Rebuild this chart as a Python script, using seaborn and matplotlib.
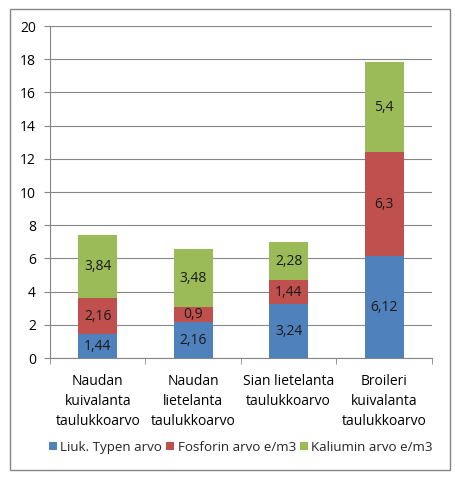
import numpy as np
import pandas as pd
import seaborn as sns
import matplotlib.pyplot as plt
from matplotlib.patches import Rectangle

categories = ["Naudan\nkuivalanta\ntaulukkoarvo", "Naudan\nlietelanta\ntaulukkoarvo",
              "Sian lietelanta\ntaulukkoarvo", "Broileri\nkuivalanta\ntaulukkoarvo"]
typpi = [1.44, 2.16, 3.24, 6.12]
fosfori = [2.16, 0.9, 1.44, 6.3]
kalium = [3.84, 3.48, 2.28, 5.4]
series_names = ["Liuk. Typen arvo", "Fosforin arvo e/m3", "Kaliumin arvo e/m3"]
COLORS = ["#4F81BD", "#C0504D", "#9BBB59"]

sns.set_style("white")
plt.rcParams['font.family'] = ['Open Sans', 'DejaVu Sans']

fig = plt.figure(figsize=(4.56, 4.78), dpi=100)
ax = fig.add_axes([0.1096, 0.251, 0.8374, 0.6946])

df = pd.DataFrame({"cat": categories, "t": typpi, "f": fosfori, "k": kalium})
bottoms = np.zeros(len(categories))
for col, name, color in zip(["t", "f", "k"], series_names, COLORS):
    sns.barplot(data=df, x="cat", y=col, color=color, bottom=bottoms.copy(),
                width=0.41, label=name, ax=ax, zorder=3, saturation=1,
                linewidth=0)
    vals = df[col].values
    for i, v in enumerate(vals):
        ax.text(i, bottoms[i] + v / 2, f"{v:g}".replace(".", ","),
                ha="center", va="center", fontsize=10, color="#1a1a1a", zorder=4)
    bottoms += vals

ax.set_ylim(0, 20)
ax.set_yticks(np.arange(0, 21, 2))
ax.set_xlim(-0.5, 3.5)
ax.set_xlabel("")
ax.set_ylabel("")
ax.yaxis.grid(True, color="#868686", linewidth=0.8)
ax.set_axisbelow(True)
for s in ["top", "right"]:
    ax.spines[s].set_visible(False)
ax.spines["left"].set_color("#868686")
ax.spines["bottom"].set_color("#868686")
ax.tick_params(axis="y", which="major", left=True, length=4, color="#868686",
               labelsize=10, pad=6, labelcolor="black")
ax.tick_params(axis="x", which="major", bottom=False, labelsize=10, pad=8,
               labelcolor="black")
for lbl in ax.get_xticklabels():
    lbl.set_linespacing(1.45)
ax.set_xticks([-0.5, 0.5, 1.5, 2.5, 3.5], minor=True)
ax.tick_params(axis="x", which="minor", bottom=True, length=4, color="#868686")

ax.legend(loc="center", bbox_to_anchor=(0.5, -0.268), ncol=3, frameon=False,
          fontsize=9.6, handlelength=0.6, handleheight=0.6, handletextpad=0.25,
          columnspacing=0.3)

fig.patches.append(Rectangle((10 / 456, 1 - 470 / 478), 440 / 456, 461 / 478,
                             transform=fig.transFigure, fill=False,
                             edgecolor="#868686", linewidth=1))

fig.savefig("out.png", dpi=100)
